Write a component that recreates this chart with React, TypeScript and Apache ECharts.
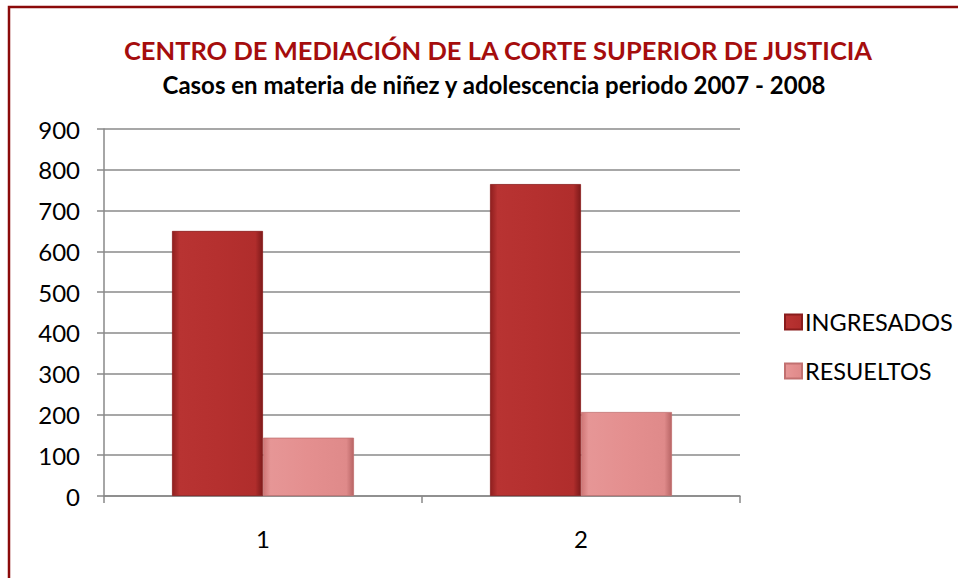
import React, { useEffect, useRef } from "react";
import * as echarts from "echarts";

const categories = ["1", "2"];
const ingresados = [650, 765];
const resueltos = [143, 206];
const yTicks = [0, 900, 100];
const titleText = "CENTRO DE MEDIACIÓN DE LA CORTE SUPERIOR DE JUSTICIA";
const subtitleText = "Casos en materia de niñez y adolescencia periodo 2007 - 2008";

const FONT = "Lato, 'Open Sans', sans-serif";

export default function App() {
  const ref = useRef<HTMLDivElement>(null);
  useEffect(() => {
    const chart = echarts.init(ref.current!, null, { renderer: "svg" });
    const redGrad = new echarts.graphic.LinearGradient(0, 0, 1, 0, [
      { offset: 0, color: "#8f1f1f" },
      { offset: 0.08, color: "#b83332" },
      { offset: 0.5, color: "#b5302f" },
      { offset: 0.92, color: "#b02d2c" },
      { offset: 1, color: "#7e1a1a" },
    ]);
    const pinkGrad = new echarts.graphic.LinearGradient(0, 0, 1, 0, [
      { offset: 0, color: "#cf7676" },
      { offset: 0.08, color: "#e69696" },
      { offset: 0.5, color: "#e48f8f" },
      { offset: 0.92, color: "#df8a8a" },
      { offset: 1, color: "#b86565" },
    ]);
    chart.setOption({
      animation: false,
      backgroundColor: "#ffffff",
      textStyle: { fontFamily: FONT },
      graphic: [
        {
          type: "rect",
          shape: { x: 9, y: 7, width: 1200, height: 1200 },
          style: { fill: "none", stroke: "#8b0a0a", lineWidth: 2.5 },
          silent: true,
        },
      ],
      title: [
        {
          text: titleText,
          left: 493,
          top: 32,
          textAlign: "center",
          textStyle: { fontFamily: FONT, fontSize: 25.5, fontWeight: "bold", color: "#a50d0d" },
        },
        {
          text: subtitleText,
          left: 489,
          top: 67,
          textAlign: "center",
          textStyle: { fontFamily: FONT, fontSize: 24, fontWeight: "bold", color: "#000000" },
        },
      ],
      legend: {
        orient: "vertical",
        left: 779,
        top: 305,
        itemWidth: 17,
        itemHeight: 15,
        itemGap: 25,
        icon: "rect",
        textStyle: { fontFamily: FONT, fontSize: 23.5, color: "#000", padding: [0, 0, 0, -2] },
        data: ["INGRESADOS", "RESUELTOS"],
      },
      grid: { left: 104, right: 218, top: 129, bottom: 82 },
      xAxis: {
        type: "category",
        data: categories,
        axisLine: { lineStyle: { color: "#888888", width: 1.5 } },
        axisTick: { show: true, length: 7, lineStyle: { color: "#888888", width: 1.5 } },
        axisLabel: { fontFamily: FONT, fontSize: 24, color: "#000", margin: 30 },
      },
      yAxis: {
        type: "value",
        min: yTicks[0],
        max: yTicks[1],
        interval: yTicks[2],
        axisLine: { show: true, lineStyle: { color: "#888888", width: 1.5 } },
        axisTick: { show: true, length: 7, lineStyle: { color: "#888888", width: 1.5 } },
        splitLine: { lineStyle: { color: "#8a8a8a", width: 1.5 } },
        axisLabel: { fontFamily: FONT, fontSize: 24, color: "#000", margin: 24 },
      },
      series: [
        {
          name: "INGRESADOS",
          type: "bar",
          data: ingresados,
          barWidth: 91,
          barGap: "0%",
          itemStyle: { color: redGrad, borderColor: "#8a1c1c", borderWidth: 0.8 },
        },
        {
          name: "RESUELTOS",
          type: "bar",
          data: resueltos,
          barWidth: 91,
          barGap: "0%",
          itemStyle: { color: pinkGrad, borderColor: "#c27070", borderWidth: 0.8 },
        },
      ],
    });
    return () => chart.dispose();
  }, []);
  return <div ref={ref} style={{ width: 958, height: 578, position: "absolute", left: 0, top: 0 }} />;
}
